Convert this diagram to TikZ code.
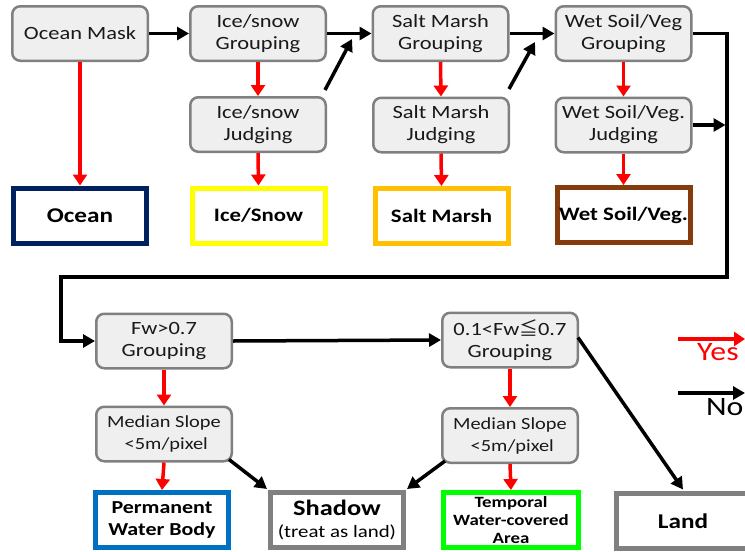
\documentclass[tikz,border=0pt]{standalone}
\usepackage{fontspec}
\setmainfont[FakeStretch=1.2]{Carlito}
\newfontfamily\cjkfont{Noto Sans CJK SC}
\usetikzlibrary{arrows.meta,calc}
\definecolor{boxfill}{HTML}{EFEFEF}
\definecolor{boxgray}{HTML}{808080}
\definecolor{oceanblue}{HTML}{002060}
\definecolor{iceyellow}{HTML}{FFFF00}
\definecolor{marshgold}{HTML}{FFC000}
\definecolor{soilbrown}{HTML}{843C0C}
\definecolor{waterblue}{HTML}{0070C0}
\definecolor{tempgreen}{HTML}{00FF00}
\definecolor{yesred}{HTML}{FF0000}
\begin{document}
\begin{tikzpicture}[x=1pt,y=-1pt,
  gbox/.style={draw=boxgray, fill=boxfill, line width=2.5pt, rounded corners=8pt,
    minimum width=135.5pt, minimum height=54.5pt, inner sep=0pt, align=center,
    text=black!90, font=\fontsize{18.7}{22}\selectfont},
  rbox/.style={draw=#1, fill=white, line width=5pt, minimum width=133pt,
    minimum height=55pt, inner sep=0pt, align=center,
    font=\bfseries\fontsize{19}{22}\selectfont},
  noarrow/.style={draw=black, line width=3.5pt, line join=miter,
    -{Triangle[length=12pt,width=13pt]}},
  yesarrow/.style={draw=yesred, line width=3.5pt,
    -{Triangle[length=11pt,width=14pt]}},
  slopetext/.style={font=\fontsize{17}{22}\selectfont}
]
\useasboundingbox (0,0) rectangle (745,552);
\clip (0,0) rectangle (745,552);

% upper chain of grouping / judging steps
\node[gbox] (om)  at (80,33.5)    {Ocean Mask};
\node[gbox] (isg) at (258,33.5)   {Ice/snow\\Grouping};
\node[gbox] (isj) at (258,124.5)  {Ice/snow\\Judging};
\node[gbox] (smg) at (440.5,33.5) {Salt Marsh\\Grouping};
\node[gbox] (smj) at (441,125)    {Salt Marsh\\Judging};
\node[gbox] (wsg) at (623.5,33.5) {Wet Soil/Veg\\Grouping};
\node[gbox] (wsj) at (623.5,125)  {Wet Soil/Veg.\\Judging};

% upper classes
\node[rbox=oceanblue, font=\bfseries\fontsize{21}{24}\selectfont] (ocean) at (80,215.5) {Ocean};
\node[rbox=iceyellow] (ice)   at (258.5,215.5) {Ice/Snow};
\node[rbox=marshgold] (marsh) at (441.5,216)   {Salt Marsh};
\node[rbox=soilbrown] (soil)  at (623.5,215)   {Wet Soil/Veg.};

% lower chain
\node[gbox] (fwa) at (164,341)   {Fw>0.7\\Grouping};
\node[gbox, slopetext] (msa) at (164,434) {Median Slope\\\ {<}5m/pixel};
\node[gbox] (fwb) at (510,340)   {0.1<Fw{\cjkfont ≦}0.7\\Grouping};
\node[gbox, slopetext] (msb) at (510,435.5) {Median Slope\\\ {<}5m/pixel};

% lower classes
\node[rbox=waterblue, font=\bfseries\fontsize{18.3}{22}\selectfont] (perm) at (162,520)
  {Permanent\\Water Body};
\node[rbox=boxgray, font=\fontsize{17.4}{22}\selectfont] (shadow) at (337,520)
  {{\bfseries\fontsize{22}{26}\selectfont Shadow}\\(treat as land)};
\node[rbox=tempgreen, minimum width=135pt, font=\bfseries\fontsize{15.7}{18}\selectfont] (temp) at (511,520)
  {Temporal\\Water-covered\\Area};
\node[rbox=boxgray, font=\bfseries\fontsize{21}{24}\selectfont] (land) at (683,521) {Land};

% "yes" branches
\draw[yesarrow] (om.south)  -- (ocean.north);
\draw[yesarrow] (isg.south) -- (isj.north);
\draw[yesarrow] (isj.south) -- (ice.north);
\draw[yesarrow] (smg.south) -- (smj.north);
\draw[yesarrow] (smj.south) -- (marsh.north);
\draw[yesarrow] (wsg.south) -- (wsj.north);
\draw[yesarrow] (wsj.south) -- (soil.north);
\draw[yesarrow] (fwa.south) -- (msa.north);
\draw[yesarrow] (msa.south) -- (perm.north);
\draw[yesarrow] (fwb.south) -- (msb.north);
\draw[yesarrow] (msb.south) -- (temp.north);

% "no" branches
\coordinate (isjout) at (325,90);
\coordinate (isjin)  at (352,39);
\coordinate (smjout) at (509,89);
\coordinate (smjin)  at (535,42);
\coordinate (railtop) at (727,277);
\coordinate (railleft) at (61,277);
\draw[noarrow] (om.east)  -- (isg.west);
\draw[noarrow] (isg.east) -- (smg.west);
\draw[noarrow] (isjout) -- (isjin);
\draw[noarrow] (smg.east) -- (wsg.west);
\draw[noarrow] (smjout) -- (smjin);
\draw[noarrow] (wsg.east) -| (railtop) -- (railleft) |- (fwa.west);
\draw[noarrow, shorten >=1.5pt] (wsj.east) -- (wsj.east -| railtop);
\draw[noarrow] (fwa.east) -- (fwb.west);
\draw[noarrow] ($(msa.south east)+(-4,-3)$) -- ($(shadow.north west)+(-1,-1)$);
\draw[noarrow] ($(msb.south west)+(4,-3)$) -- ($(shadow.north east)+(1,-1)$);
\draw[noarrow] ($(fwb.north east)+(-1,26)$) -- ($(land.north)+(0,-1.5)$);

% legend
\coordinate (yesa) at (678,339);
\coordinate (yesb) at (745,339);
\coordinate (noa) at (678,393);
\coordinate (nob) at (745,393);
\draw[yesarrow] (yesa) -- (yesb);
\draw[noarrow] (noa) -- (nob);
\node[text=yesred, font=\fontsize{26.5}{28}\selectfont, anchor=base west, inner sep=0pt] (yes) at (697,360) {Yes};
\node[font=\fontsize{26.5}{28}\selectfont, anchor=base west, inner sep=0pt] (no) at (706,415) {No};
\end{tikzpicture}
\end{document}
